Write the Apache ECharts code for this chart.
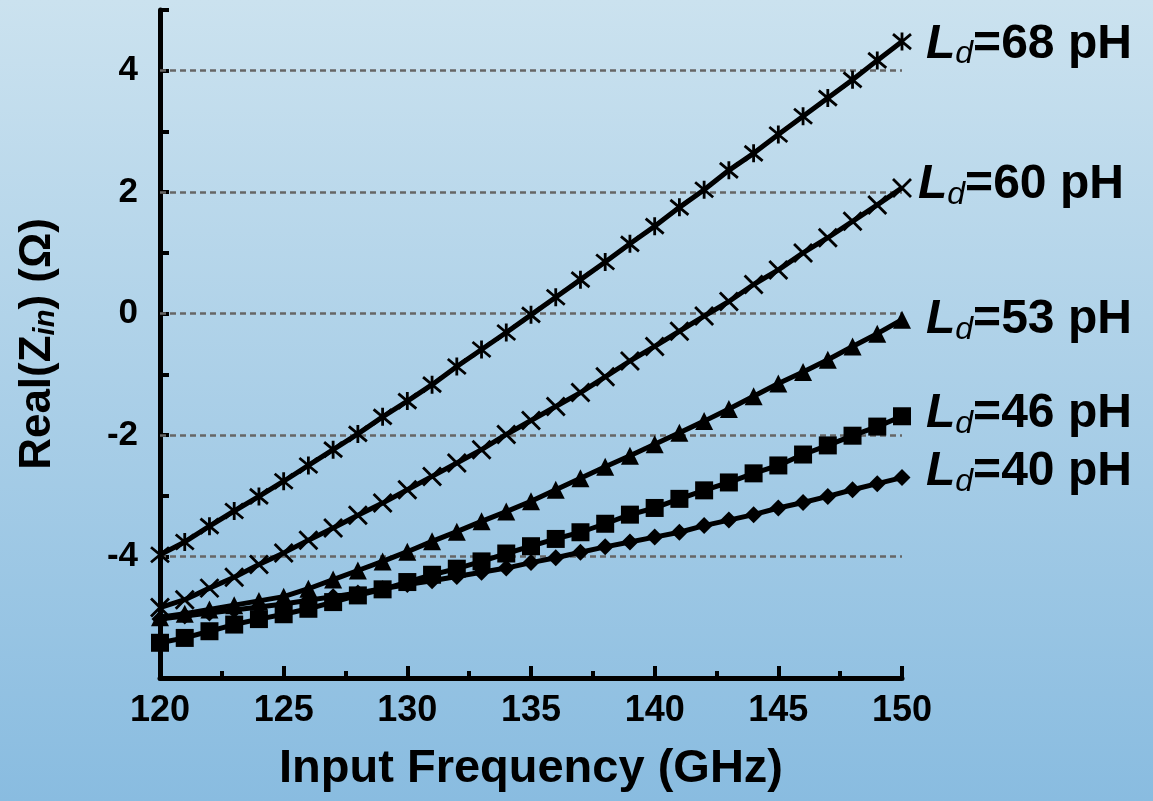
<!DOCTYPE html>
<html>
<head>
<meta charset="utf-8">
<script src="https://cdn.jsdelivr.net/npm/echarts@6/dist/echarts.min.js"></script>
<style>
html,body{margin:0;padding:0;width:1153px;height:801px;overflow:hidden;}
#chart{width:1153px;height:801px;}
</style>
</head>
<body>
<div id="chart"></div>
<script>
// ---- data ----
var freq = [120,121,122,123,124,125,126,127,128,129,130,131,132,133,134,135,136,137,138,139,140,141,142,143,144,145,146,147,148,149,150];
var ld68 = [-3.97,-3.76,-3.50,-3.25,-3.01,-2.76,-2.50,-2.24,-1.98,-1.70,-1.44,-1.17,-0.87,-0.59,-0.31,-0.02,0.27,0.56,0.85,1.15,1.44,1.75,2.04,2.36,2.64,2.95,3.25,3.55,3.85,4.17,4.48];
var ld60 = [-4.84,-4.71,-4.52,-4.34,-4.13,-3.94,-3.73,-3.53,-3.32,-3.12,-2.90,-2.68,-2.46,-2.24,-1.99,-1.76,-1.53,-1.30,-1.04,-0.78,-0.54,-0.29,-0.04,0.20,0.48,0.72,1.00,1.25,1.52,1.79,2.07];
var ld53 = [-5.00,-4.94,-4.87,-4.80,-4.73,-4.66,-4.53,-4.38,-4.23,-4.08,-3.92,-3.75,-3.59,-3.42,-3.26,-3.09,-2.90,-2.71,-2.52,-2.34,-2.15,-1.96,-1.77,-1.57,-1.36,-1.15,-0.96,-0.76,-0.54,-0.33,-0.10];
var ld46 = [-5.42,-5.34,-5.23,-5.12,-5.03,-4.95,-4.86,-4.75,-4.64,-4.54,-4.42,-4.30,-4.20,-4.08,-3.95,-3.83,-3.71,-3.60,-3.46,-3.31,-3.20,-3.05,-2.91,-2.78,-2.63,-2.50,-2.32,-2.17,-2.01,-1.86,-1.69];
var ld40 = [-5.03,-4.98,-4.93,-4.88,-4.83,-4.78,-4.72,-4.66,-4.60,-4.53,-4.46,-4.40,-4.33,-4.26,-4.19,-4.10,-4.02,-3.93,-3.84,-3.76,-3.68,-3.60,-3.49,-3.40,-3.31,-3.20,-3.11,-3.01,-2.90,-2.80,-2.70];
var seriesNames = ['68 pH','60 pH','53 pH','46 pH','40 pH'];
var gridValues = [4,2,0,-2,-4];
var yLabelValues = [4,2,0,-2,-4];

var FONT = '"Liberation Sans", Arial, sans-serif';

function pairs(arr){ return arr.map(function(v,i){ return [freq[i], v]; }); }

var asterisk = 'path://M0,0L20,20M20,0L0,20M10,-2L10,22';
var cross = 'path://M0,0L20,20M20,0L0,20';

function endLab(name, off){
  return {
    show: true,
    distance: 24,
    offset: off || [0,0],
    formatter: '{L|L}{d|d}{t|=' + name + '}',
    rich: {
      L: {fontFamily: FONT, fontSize: 48, fontWeight: 'bold', fontStyle: 'italic', color: '#000'},
      d: {fontFamily: FONT, fontSize: 32, fontStyle: 'italic', color: '#000', padding: [20,0,0,0]},
      t: {fontFamily: FONT, fontSize: 48, fontWeight: 'bold', color: '#000'}
    }
  };
}

function mkSeries(name, data, symbol, size, stroke, lab, extra){
  var s = {
    name: name,
    type: 'line',
    data: pairs(data),
    symbol: symbol,
    symbolSize: size,
    showAllSymbol: true,
    lineStyle: {color: '#000', width: 5},
    itemStyle: stroke ? {color: 'rgba(0,0,0,0)', borderColor: '#000', borderWidth: 2.8} : {color: '#000', borderWidth: 0},
    endLabel: lab,
    labelLayout: {hideOverlap: false},
    animation: false,
    emphasis: {disabled: true}
  };
  if (extra) for (var k in extra) s[k] = extra[k];
  return s;
}

var chart = echarts.init(document.getElementById('chart'), null, {renderer: 'canvas'});
var option = {
  backgroundColor: new echarts.graphic.LinearGradient(0,0,0,1,[
    {offset: 0, color: '#cbe2ef'},
    {offset: 1, color: '#89bce0'}
  ]),
  animation: false,
  grid: {left: 160, right: 251, top: 10, bottom: 123, containLabel: false},
  xAxis: {
    type: 'value', min: 120, max: 150, interval: 5,
    name: 'Input Frequency (GHz)',
    nameLocation: 'middle', nameGap: 68,
    nameTextStyle: {fontFamily: FONT, fontSize: 47, fontWeight: 'bold', color: '#000'},
    axisLine: {show: true, onZero: false, lineStyle: {color: '#000', width: 5}},
    axisTick: {show: true, inside: true, length: 12, lineStyle: {color: '#000', width: 4}},
    minorTick: {show: true, splitNumber: 2, length: 7, lineStyle: {color: '#000', width: 4}},
    axisLabel: {fontFamily: FONT, fontSize: 36, fontWeight: 'bold', color: '#000', margin: 15},
    splitLine: {show: false}
  },
  yAxis: {
    type: 'value', min: -6, max: 5, interval: 1,
    name: '{a|Real(Z}{s|in}{a|) (Ω)}',
    nameLocation: 'middle', nameGap: 100, nameRotate: 90,
    nameTextStyle: {
      rich: {
        a: {fontFamily: FONT, fontSize: 44, fontWeight: 'bold', color: '#000'},
        s: {fontFamily: FONT, fontSize: 29, fontStyle: 'italic', fontWeight: 'bold', color: '#000', padding: [16,0,0,0]}
      }
    },
    axisLine: {show: true, onZero: false, lineStyle: {color: '#000', width: 5}},
    axisTick: {show: true, inside: true, length: 9, lineStyle: {color: '#000', width: 4}},
    axisLabel: {
      fontFamily: FONT, fontSize: 35, fontWeight: 'bold', color: '#000', margin: 22,
      formatter: function(v){ return yLabelValues.indexOf(v) >= 0 ? String(v) : ''; }
    },
    splitLine: {show: false}
  },
  series: [
    mkSeries('Ld=68 pH', ld68, asterisk, 18, true, endLab('68 pH',[0,3]), {
      markLine: {
        silent: true, symbol: 'none', label: {show: false},
        lineStyle: {color: '#666', width: 2.5, type: [6,4]},
        data: gridValues.map(function(v){ return {yAxis: v}; }),
        z: 1
      }
    }),
    mkSeries('Ld=60 pH', ld60, cross, 18, true, endLab('60 pH',[-8,-3])),
    mkSeries('Ld=53 pH', ld53, 'triangle', 18, false, endLab('53 pH',[0,0])),
    mkSeries('Ld=46 pH', ld46, 'rect', 18, false, endLab('46 pH',[0,-2])),
    mkSeries('Ld=40 pH', ld40, 'diamond', 17, false, endLab('40 pH',[0,-6]))
  ]
};
chart.setOption(option);
</script>
</body>
</html>
